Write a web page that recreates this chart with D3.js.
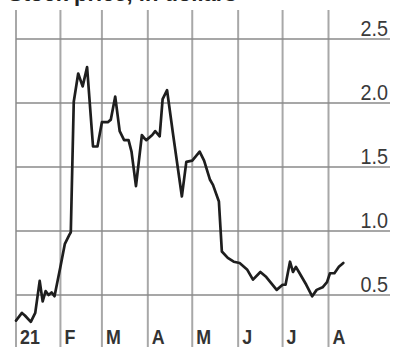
<!DOCTYPE html>
<html>
<head>
<meta charset="utf-8">
<script src="https://cdn.jsdelivr.net/npm/d3@7"></script>
<style>
  html, body { margin: 0; padding: 0; background: #fff; }
  svg { display: block; }
</style>
</head>
<body>
<div id="chart"></div>
<script>
// Daily closing price, 2021
const dates = [
  "2021-01-02","2021-01-06","2021-01-08","2021-01-12","2021-01-15","2021-01-18",
  "2021-01-20","2021-01-22","2021-01-24","2021-01-26","2021-01-28","2021-02-01",
  "2021-02-04","2021-02-07","2021-02-08","2021-02-10","2021-02-13","2021-02-16",
  "2021-02-19","2021-02-23","2021-02-26","2021-03-01","2021-03-05","2021-03-07",
  "2021-03-10","2021-03-13","2021-03-16","2021-03-19","2021-03-21","2021-03-24",
  "2021-03-28","2021-03-30","2021-03-31","2021-04-04","2021-04-06","2021-04-09",
  "2021-04-11","2021-04-14","2021-04-18","2021-04-24","2021-04-27","2021-05-01",
  "2021-05-06","2021-05-09","2021-05-13","2021-05-15","2021-05-19","2021-05-21",
  "2021-05-25","2021-05-29","2021-06-02","2021-06-07","2021-06-11","2021-06-16",
  "2021-06-20","2021-06-27","2021-07-01","2021-07-03","2021-07-06","2021-07-08",
  "2021-07-10","2021-07-12","2021-07-17","2021-07-21","2021-07-24","2021-07-28",
  "2021-07-31","2021-08-02","2021-08-05","2021-08-08","2021-08-11"
];
const prices = [
  0.30, 0.36, 0.34, 0.29, 0.36, 0.61,
  0.45, 0.53, 0.50, 0.52, 0.49, 0.72,
  0.90, 0.97, 0.99, 2.01, 2.23, 2.13,
  2.28, 1.66, 1.66, 1.85, 1.85, 1.87,
  2.05, 1.78, 1.71, 1.71, 1.62, 1.35,
  1.75, 1.72, 1.71, 1.75, 1.78, 1.74,
  2.03, 2.10, 1.76, 1.27, 1.54, 1.55,
  1.62, 1.55, 1.40, 1.36, 1.23, 0.84,
  0.79, 0.76, 0.75, 0.70, 0.62, 0.68,
  0.64, 0.54, 0.58, 0.58, 0.76, 0.68,
  0.72, 0.68, 0.58, 0.49, 0.54, 0.56,
  0.60, 0.67, 0.67, 0.72, 0.75
];
const yTicks = [0.5, 1.0, 1.5, 2.0, 2.5];
const monthStarts = ["2021-02-01","2021-03-01","2021-04-01","2021-05-01","2021-06-01","2021-07-01","2021-08-01"];
const monthLabels = ["21","F","M","A","M","J","J","A"];
const title = "Stock price, in dollars";

const W = 402, H = 347;
const parse = d3.timeParse("%Y-%m-%d");
const series = dates.map((d, i) => ({ date: parse(d), value: prices[i] }));
const start = parse(dates[0]);

const x = d3.scaleTime()
  .domain([start, parse("2021-08-01")])
  .range([16, 328.5]);
const y = d3.scaleLinear()
  .domain([0.5, 2.5])
  .range([295, 39]);
const right = 390;

const svg = d3.select("#chart").append("svg")
  .attr("width", W).attr("height", H);

// Headline running off the top edge
svg.append("text")
  .attr("x", 8).attr("y", 1)
  .attr("font-family", "Liberation Sans, Arial, sans-serif")
  .attr("font-weight", "bold")
  .attr("font-size", 22)
  .attr("fill", "#222")
  .text(title);

// Vertical month lines (left edge plus each month start)
const vLines = [start].concat(monthStarts.map(parse));
svg.append("g")
  .selectAll("line")
  .data(vLines)
  .join("line")
  .attr("x1", d => x(d)).attr("x2", d => x(d))
  .attr("y1", 10).attr("y2", H)
  .attr("stroke", "#a8a8a8")
  .attr("stroke-width", 2);

// Horizontal value lines
svg.append("g")
  .selectAll("line")
  .data(yTicks)
  .join("line")
  .attr("x1", x(start)).attr("x2", right)
  .attr("y1", d => y(d)).attr("y2", d => y(d))
  .attr("stroke", "#8a8a8a")
  .attr("stroke-width", 1.5);

// Value labels sitting on the lines at the right
svg.append("g")
  .selectAll("text")
  .data(yTicks)
  .join("text")
  .attr("transform", d => `translate(${right - 2},${y(d) - 3}) scale(0.9,1)`)
  .attr("text-anchor", "end")
  .attr("font-family", "Liberation Sans, Arial, sans-serif")
  .attr("font-size", 22)
  .attr("fill", "#3a3a3a")
  .text(d => d3.format(".1f")(d));

// Month labels just right of each month line
svg.append("g")
  .selectAll("text")
  .data(vLines)
  .join("text")
  .attr("transform", d => `translate(${x(d) + 4},${H - 3}) scale(0.85,1)`)
  .attr("font-family", "Liberation Sans, Arial, sans-serif")
  .attr("font-weight", "bold")
  .attr("font-size", 21)
  .attr("fill", "#333")
  .text((d, i) => monthLabels[i]);

// Price line
const line = d3.line()
  .x(d => x(d.date))
  .y(d => y(d.value));

svg.append("path")
  .datum(series)
  .attr("d", line)
  .attr("fill", "none")
  .attr("stroke", "#1e1e1e")
  .attr("stroke-width", 2.7)
  .attr("stroke-linejoin", "round")
  .attr("stroke-linecap", "round");
</script>
</body>
</html>
